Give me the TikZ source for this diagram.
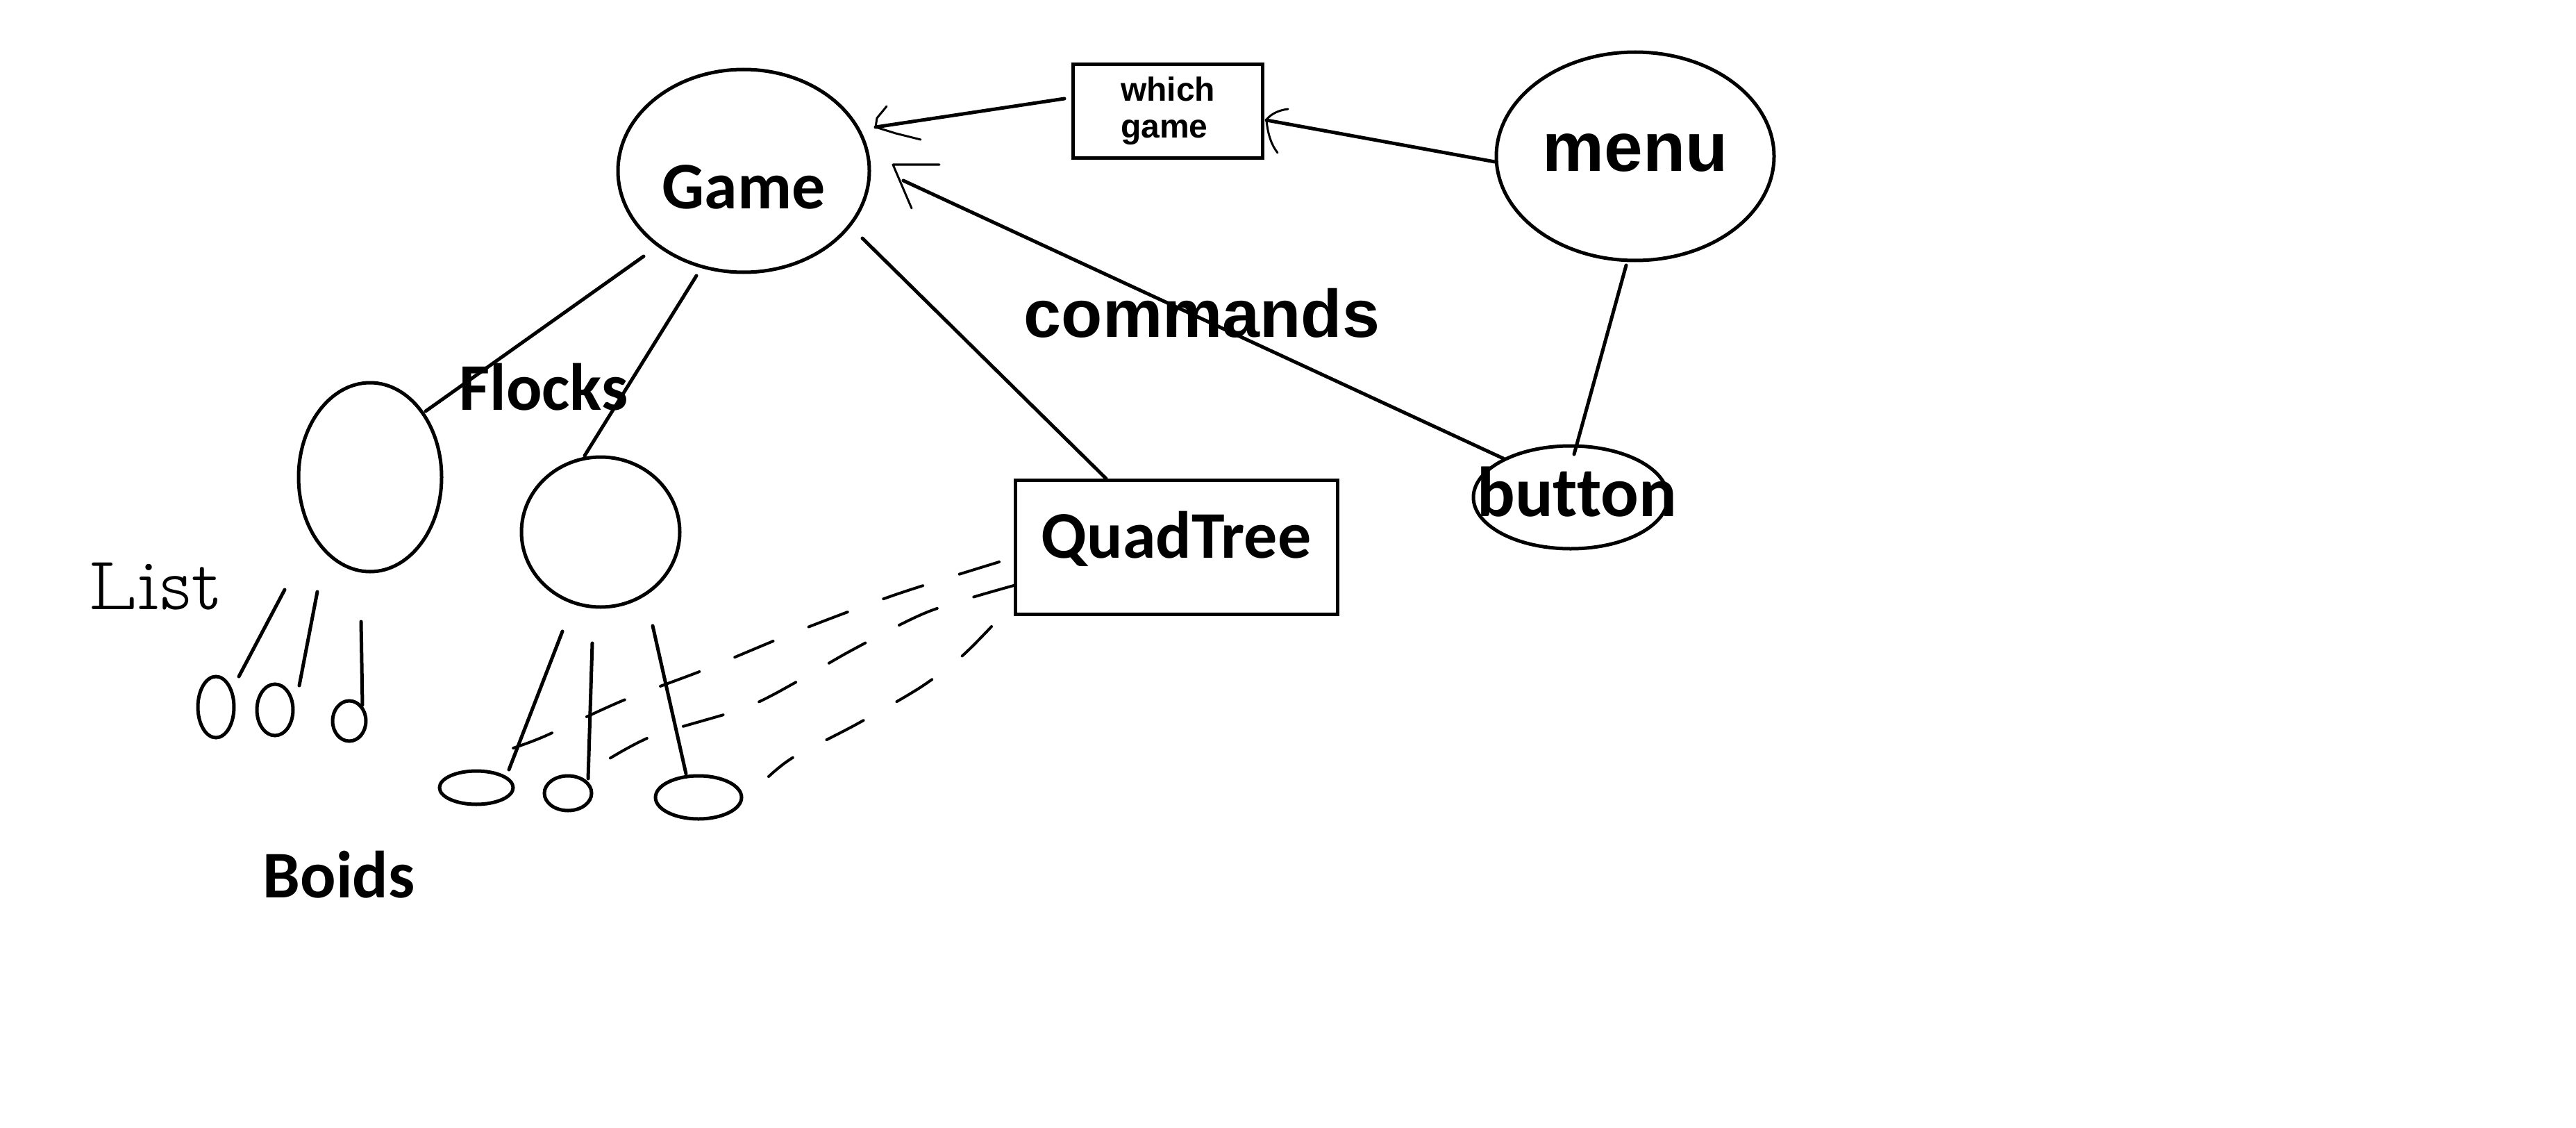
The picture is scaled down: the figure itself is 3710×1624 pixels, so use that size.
\documentclass[tikz,border=0pt]{standalone}
\usepackage{fontspec}
\newfontfamily\carlito{Carlito}[Ligatures=NoCommon]
\newfontfamily\libsans{Liberation Sans}
\newfontfamily\listfont{lmmonoproplt10-regular.otf}
\usetikzlibrary{shapes.geometric}
\begin{document}
\begin{tikzpicture}[x=1pt,y=-1pt,
  ln/.style={line width=5pt, line cap=round},
  tipln/.style={line width=3pt, line cap=round, line join=round},
  ell/.style={ellipse, draw, line width=5pt, inner sep=0pt, outer sep=0pt},
  box/.style={rectangle, draw, line width=5pt, inner sep=0pt, outer sep=0pt},
  dsh/.style={line width=4pt, line cap=round, dash pattern=on 60pt off 55pt},
  cb/.style={font=\carlito\bfseries\fontsize{96}{100}\selectfont},
  cbbig/.style={font=\carlito\bfseries\fontsize{102}{106}\selectfont},
  abig/.style={font=\libsans\bfseries\fontsize{100}{104}\selectfont},
  acmd/.style={font=\libsans\bfseries\fontsize{97}{100}\selectfont},
  asmall/.style={font=\libsans\bfseries\fontsize{48}{53}\selectfont},
  hand/.style={font=\listfont\fontsize{110}{110}\selectfont}
]
\useasboundingbox[fill=white] (0,0) rectangle (3710,1624);

% main nodes
\node[ell, cb, minimum width=362pt, minimum height=292pt, text height=108pt, text depth=0pt] (game) at (1071,246) {Game};
\node[ell, abig, minimum width=400pt, minimum height=300pt, text height=44pt, text depth=0pt] (menu) at (2355,225) {menu};
\node[ell, cbbig, minimum width=280pt, minimum height=148pt, text height=54pt, text depth=0pt] (button) at (2262,716) {\makebox[0pt]{\hspace{18pt}button}};
\node[box, asmall, minimum width=273pt, minimum height=135pt, align=left] (which) at (1682,160) {which\\game};
\node[box, cb, minimum width=464pt, minimum height=193pt, text height=31pt, text depth=0pt] (qt) at (1694,787.5) {QuadTree};

% flocks
\node[ell, minimum width=206pt, minimum height=272pt] (fa) at (533,687) {};
\node[ell, minimum width=228pt, minimum height=216pt] (fb) at (865,766) {};

% boids
\node[ell, minimum width=52pt, minimum height=88pt] (a1) at (311,1018) {};
\node[ell, minimum width=52pt, minimum height=74pt] (a2) at (396,1022) {};
\node[ell, minimum width=48pt, minimum height=58pt] (a3) at (503,1038) {};
\node[ell, minimum width=106pt, minimum height=48pt] (b1) at (686,1134) {};
\node[ell, minimum width=68pt, minimum height=50pt] (b2) at (818,1142) {};
\node[ell, minimum width=124pt, minimum height=62pt] (b3) at (1006,1148) {};

% labels
\node[cb, anchor=base] (flockslbl) at (783,590) {Flocks};
\node[cb, anchor=base] (boidslbl) at (488,1292) {Boids};
\node[acmd, anchor=base] (cmdlbl) at (1731,485) {commands};
\node[hand, anchor=base] (listlbl) at (224,877) {List};

% connector end points
\coordinate (gA) at (927,369);   \coordinate (faT) at (613,592);
\coordinate (gB) at (1003,397);  \coordinate (fbT) at (842,656);
\coordinate (gQ) at (1242,343);  \coordinate (qT) at (1593,689);
\coordinate (wL) at (1533,142);  \coordinate (gW) at (1261,183);
\coordinate (mL) at (2153,233);  \coordinate (wR) at (1824,173);
\coordinate (bL) at (2165,660);  \coordinate (gBt) at (1301,260);
\coordinate (mB) at (2342,382);  \coordinate (bT) at (2267,654);
\coordinate (tipC) at (1286,237);

\draw[ln] (gA) -- (faT);
\draw[ln] (gB) -- (fbT);
\draw[ln] (gQ) -- (qT);
\draw[ln] (wL) -- (gW);
\draw[ln] (mL) -- (wR);
\draw[ln] (bL) -- (gBt);
\draw[ln] (mB) -- (bT);

% hand drawn arrow tips
\draw[tipln] (1277,153) -- (1263,170) -- (gW) -- (1290,192) -- (1326,201);
\draw[tipln] (1855,157) .. controls (1830,160) and (1822,175) .. (wR) .. controls (1826,195) and (1832,210) .. (1840,220);
\draw[tipln] (1353,237) -- (tipC) -- (1313,300);

% flock to boid lines
\coordinate (fa1) at (410,849); \coordinate (a1t) at (344,974);
\coordinate (fa2) at (457,852); \coordinate (a2t) at (431,987);
\coordinate (fa3) at (520,895); \coordinate (a3t) at (522,1015);
\coordinate (fb1) at (810,909); \coordinate (b1t) at (733,1108);
\coordinate (fb2) at (853,926); \coordinate (b2t) at (847,1121);
\coordinate (fb3) at (940,901); \coordinate (b3t) at (988,1114);
\draw[ln] (fa1) -- (a1t);
\draw[ln] (fa2) -- (a2t);
\draw[ln] (fa3) -- (a3t);
\draw[ln] (fb1) -- (b1t);
\draw[ln] (fb2) -- (b2t);
\draw[ln] (fb3) -- (b3t);

% dashed links from QuadTree to boids
\draw[dsh] plot[smooth] coordinates {(1439,809) (1290,856) (1148,909) (1015,964) (896,1009) (782,1061) (733,1079)};
\draw[dsh] plot[smooth] coordinates {(1460,843) (1336,881) (1227,936) (1152,979) (1073,1019) (939,1060) (865,1100)};
\draw[dsh] plot[smooth] coordinates {(1428,902) (1385,945) (1325,990) (1233,1043) (1143,1090) (1107,1118)};
\end{tikzpicture}
\end{document}
